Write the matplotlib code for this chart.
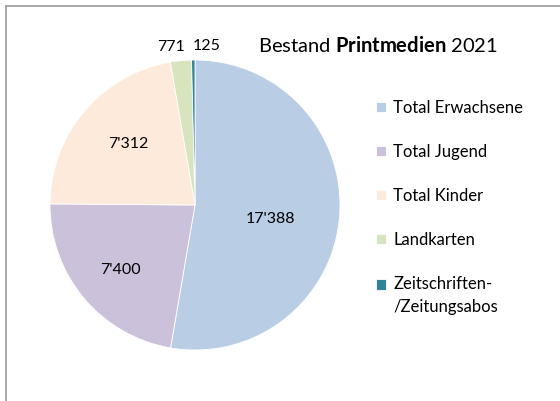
import numpy as np
import matplotlib.pyplot as plt
from matplotlib.lines import Line2D

# Data
categories = ["Total Erwachsene", "Total Jugend", "Total Kinder", "Landkarten",
              "Zeitschriften-\n/Zeitungsabos"]
values = [17388, 7400, 7312, 771, 125]
value_labels = ["17'388", "7'400", "7'312", "771", "125"]
colors = ["#B9CDE5", "#CCC1DA", "#FDEADA", "#D7E4BD", "#31849B"]

# label placement (radius as fraction of pie radius, angle tweak in degrees)
label_radius = [0.53, 0.68, 0.625, 1.10, 1.10]
label_angle_shift = [-6, 1, -2, 3, -5]

plt.rcParams["font.family"] = ["Lato", "DejaVu Sans"]
plt.rcParams["mathtext.fontset"] = "custom"
plt.rcParams["mathtext.rm"] = "Lato"
plt.rcParams["mathtext.bf"] = "Lato:bold"

W, H = 560, 401
fig = plt.figure(figsize=(W / 100, H / 100), dpi=100)

# pie axes: center (195, 205) px, radius 145 px
cx, cy, r = 195, 205, 145
ax = fig.add_axes([(cx - r) / W, 1 - (cy + r) / H, 2 * r / W, 2 * r / H])
wedges, _ = ax.pie(values, colors=colors, startangle=90, counterclock=False,
                   radius=1, wedgeprops=dict(edgecolor="white", linewidth=0.6))
ax.set_xlim(-1, 1)
ax.set_ylim(-1, 1)

for w, lab, rad, shift in zip(wedges, value_labels, label_radius, label_angle_shift):
    ang = np.deg2rad((w.theta1 + w.theta2) / 2 + shift)
    ax.text(rad * np.cos(ang), rad * np.sin(ang), lab, ha="center", va="center",
            fontsize=11.5, color="black")

# Legend
leg = fig.legend(wedges, categories, loc="upper left",
                 bbox_to_anchor=(376 / W, 1 - 100 / H), frameon=False,
                 fontsize=12, handlelength=0.6, handleheight=0.6,
                 handletextpad=0.45, labelspacing=1.68, borderaxespad=0,
                 borderpad=0)
for t in leg.get_texts():
    t.set_linespacing(1.55)
# keep the last marker next to the first line of its two-line label
last = leg.legend_handles[-1]
last.set_y(last.get_y() + 8.5)

# Title
fig.text(258 / W, 1 - 45 / H, r"Bestand $\mathbf{Printmedien}$ 2021",
         fontsize=14.5, ha="left", va="center")

# chart border (top and left visible)
fig.add_artist(Line2D([6 / W, 1], [1 - 6 / H, 1 - 6 / H], color="#A0A0A0", lw=1.3))
fig.add_artist(Line2D([6 / W, 6 / W], [0, 1 - 6 / H], color="#A0A0A0", lw=1.3))

fig.savefig("out.png", dpi=100)
